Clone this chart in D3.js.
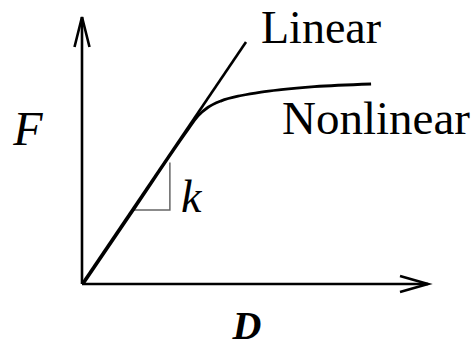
<!DOCTYPE html>
<html>
<head>
<meta charset="utf-8">
<script src="https://cdn.jsdelivr.net/npm/d3@7"></script>
<style>
  html, body { margin: 0; padding: 0; background: #fff; }
  svg { display: block; }
  text { font-family: "Liberation Serif", "Times New Roman", serif; fill: #000; }
</style>
</head>
<body>
<script>
// ---- data (abstract units) ----
const linearLine = [[0, 0], [4.74, 9.06]];
const nonlinearD = [0, 1.5, 3.0, 3.32, 3.61, 3.99, 4.57, 5.14, 5.72, 6.68, 8.32];
const nonlinearF = [0, 2.87, 5.73, 6.3, 6.62, 6.86, 7.06, 7.19, 7.28, 7.39, 7.49];
const slopeTriangle = [[1.5, 2.77], [2.54, 2.77], [2.54, 4.55]];
const labels = ["Linear", "Nonlinear", "F", "D", "k"];

const W = 476, H = 349;
const svg = d3.select("body").append("svg").attr("width", W).attr("height", H);

const x = d3.scaleLinear().domain([0, 10]).range([82, 428]);
const y = d3.scaleLinear().domain([0, 10]).range([284, 17]);

const line = d3.line().x(d => x(d[0])).y(d => y(d[1]));

// axes
const axisStroke = 2.6;
svg.append("line").attr("x1", x(0)).attr("y1", y(0)).attr("x2", x(10)).attr("y2", y(0))
  .attr("stroke", "#000").attr("stroke-width", axisStroke);
svg.append("line").attr("x1", x(0)).attr("y1", y(0)).attr("x2", x(0)).attr("y2", y(10))
  .attr("stroke", "#000").attr("stroke-width", axisStroke);
// arrowheads (open V)
svg.append("path")
  .attr("d", `M${x(10) - 28},${y(0) - 8}L${x(10)},${y(0)}L${x(10) - 28},${y(0) + 8}`)
  .attr("fill", "none").attr("stroke", "#000").attr("stroke-width", axisStroke)
  .attr("stroke-linejoin", "miter");
svg.append("path")
  .attr("d", `M${x(0) - 7.5},${y(10) + 30}L${x(0)},${y(10)}L${x(0) + 7.5},${y(10) + 30}`)
  .attr("fill", "none").attr("stroke", "#000").attr("stroke-width", axisStroke)
  .attr("stroke-linejoin", "miter");

// slope triangle
svg.append("path").attr("d", line(slopeTriangle))
  .attr("fill", "none").attr("stroke", "#666").attr("stroke-width", 1.5);

// linear line
svg.append("path").attr("d", line(linearLine))
  .attr("fill", "none").attr("stroke", "#000").attr("stroke-width", 2.6);

// nonlinear curve
const nl = nonlinearD.map((d, i) => [d, nonlinearF[i]]);
svg.append("path").attr("d", d3.line().x(d => x(d[0])).y(d => y(d[1])).curve(d3.curveMonotoneX)(nl))
  .attr("fill", "none").attr("stroke", "#000").attr("stroke-width", 2.8)
  .attr("transform", "translate(1.2,0)");

// labels
svg.append("text").attr("x", 261).attr("y", 43).attr("font-size", 46).text(labels[0]);
svg.append("text").attr("x", 282).attr("y", 134).attr("font-size", 47).text(labels[1]);
svg.append("text").attr("x", 28).attr("y", 145).attr("font-size", 48)
  .attr("font-style", "italic").attr("text-anchor", "middle").text(labels[2]);
svg.append("text").attr("x", 247).attr("y", 339).attr("font-size", 40)
  .attr("font-style", "italic").attr("font-weight", "bold").attr("text-anchor", "middle").text(labels[3]);
svg.append("text").attr("x", 181).attr("y", 212).attr("font-size", 46)
  .attr("font-style", "italic").text(labels[4]);
</script>
</body>
</html>
